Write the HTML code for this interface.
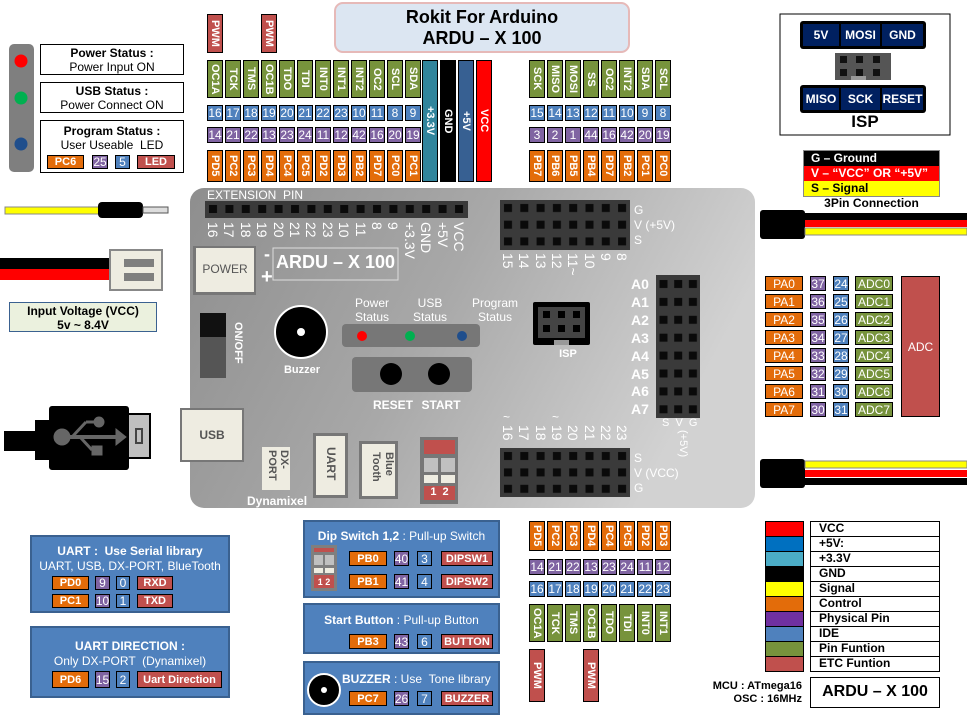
<!DOCTYPE html>
<html><head><meta charset="utf-8"><style>
body{margin:0;width:967px;height:713px;background:#fff;position:relative;overflow:hidden;font-family:"Liberation Sans",sans-serif}
.a{position:absolute;box-sizing:border-box}
.b{position:absolute;box-sizing:border-box;border:1px solid #000;color:#fff;font:bold 11px "Liberation Sans",sans-serif;display:flex;align-items:center;justify-content:center;white-space:nowrap}
.n{font-size:12px;font-weight:normal}
.o{background:#e36c0a}.p{background:#8064a2}.u{background:#4f81bd}.g{background:#77933c}.r{background:#c0504d}
.v{writing-mode:vertical-rl}
.t{position:absolute;white-space:nowrap}
.wl{color:#fff}
.bx{position:absolute;box-sizing:border-box;background:#4f81bd;border:2px solid #3a6190;color:#fff;text-align:center}
.pl{position:absolute;writing-mode:vertical-rl;color:#fff;font:14px/16px "Liberation Sans",sans-serif;width:16px;text-align:left;white-space:nowrap}
</style></head><body>
<svg class="a" style="left:0;top:0" width="967" height="713">
<defs>
<linearGradient id="bg" x1="0" y1="0" x2="1" y2="0.3"><stop offset="0" stop-color="#8e8e8e"/><stop offset="0.5" stop-color="#a8a8a8"/><stop offset="1" stop-color="#d2d2d2"/></linearGradient>
<pattern id="p1" x="205" y="201" width="16.4" height="17" patternUnits="userSpaceOnUse"><rect width="16.4" height="17" fill="#3a3a3a"/><rect x="4" y="4" width="8" height="8" fill="#0a0a0a"/></pattern>
<pattern id="p2" x="500" y="200" width="16.3" height="16.7" patternUnits="userSpaceOnUse"><rect width="16.3" height="16.7" fill="#3a3a3a"/><rect x="4" y="4" width="8" height="8" fill="#0a0a0a"/></pattern>
<pattern id="p3" x="656" y="275" width="14.7" height="17.9" patternUnits="userSpaceOnUse"><rect width="14.7" height="17.9" fill="#3a3a3a"/><rect x="3.5" y="5" width="8" height="8" fill="#0a0a0a"/></pattern>
<pattern id="p4" x="500" y="448" width="16.3" height="16.4" patternUnits="userSpaceOnUse"><rect width="16.3" height="16.4" fill="#3a3a3a"/><rect x="4" y="4" width="8" height="8" fill="#0a0a0a"/></pattern>
</defs>
<rect x="190" y="188" width="565" height="320" rx="14" fill="url(#bg)"/>
<rect x="205" y="201" width="263" height="17" fill="url(#p1)"/>
<rect x="500" y="200" width="130" height="50" fill="url(#p2)"/>
<rect x="656" y="275" width="44" height="143" fill="url(#p3)"/>
<rect x="500" y="448" width="130" height="49" fill="url(#p4)"/>
<rect x="200" y="313" width="26" height="24" fill="#111"/><rect x="200" y="337" width="26" height="41" fill="#555"/>
<circle cx="301" cy="332" r="26" fill="#000" stroke="#fff" stroke-width="2"/><circle cx="301" cy="332" r="4" fill="#fff"/>
<rect x="342" y="324" width="138" height="23" rx="4" fill="#777"/>
<circle cx="362" cy="336" r="5" fill="#f00"/><circle cx="410" cy="336" r="5" fill="#00b050"/><circle cx="462" cy="336" r="5" fill="#1f4e8c"/>
<rect x="352" y="357" width="120" height="35" rx="4" fill="#777"/>
<circle cx="391" cy="374" r="11" fill="#000"/><circle cx="439" cy="374" r="11" fill="#000"/>
<rect x="533" y="302" width="57" height="43" rx="2" fill="#000"/><rect x="538" y="307" width="47" height="31" fill="#444"/>
<g fill="#000"><rect x="543" y="311" width="7" height="7"/><rect x="558" y="311" width="7" height="7"/><rect x="573" y="311" width="7" height="7"/><rect x="543" y="325" width="7" height="7"/><rect x="558" y="325" width="7" height="7"/><rect x="573" y="325" width="7" height="7"/></g>
<rect x="554" y="340" width="15" height="5" fill="#999"/>
<rect x="193" y="246" width="63" height="49" fill="#777"/><rect x="196" y="248" width="58" height="44" fill="#eeece1"/>
<rect x="273" y="248" width="125" height="32" fill="none" stroke="#ddd" stroke-width="1"/>
<rect x="180" y="408" width="64" height="54" fill="#777"/><rect x="182" y="410" width="60" height="50" fill="#eeece1"/>
<rect x="262" y="447" width="28" height="43" fill="#eeece1"/>
<rect x="313" y="433" width="35" height="65" fill="#777"/><rect x="316" y="436" width="29" height="59" fill="#eeece1"/>
<rect x="359" y="441" width="39" height="58" fill="#777"/><rect x="362" y="444" width="33" height="52" fill="#eeece1"/>
<rect x="420" y="437" width="38" height="67" fill="#777"/>
<rect x="424" y="440" width="31" height="14" fill="#c0504d"/>
<rect x="424" y="458" width="14" height="14" fill="#c0c0c0"/><rect x="441" y="458" width="14" height="14" fill="#c0c0c0"/>
<rect x="424" y="475" width="14" height="8" fill="#eeece1"/><rect x="441" y="475" width="14" height="8" fill="#eeece1"/>
<rect x="424" y="486" width="31" height="14" fill="#c0504d"/>
<rect x="9" y="44" width="25" height="128" rx="5" fill="#7f7f7f"/>
<circle cx="21" cy="61" r="6.5" fill="#f00"/><circle cx="21" cy="98" r="6.5" fill="#00b050"/><circle cx="21" cy="144" r="6.5" fill="#1f4e8c"/>
<rect x="5" y="207" width="95" height="7" fill="#ff0" stroke="#888" stroke-width="1"/>
<rect x="98" y="202" width="45" height="16" rx="4" fill="#000"/>
<rect x="143" y="207" width="25" height="6" fill="#ddd" stroke="#555" stroke-width="1"/>
<rect x="0" y="258" width="112" height="11" fill="#000"/><rect x="0" y="269" width="112" height="11" fill="#f00"/>
<rect x="110" y="250" width="52" height="40" fill="#eeece1" stroke="#888" stroke-width="2"/>
<rect x="124" y="259" width="30" height="8" fill="#7f7f7f"/><rect x="124" y="273" width="30" height="8" fill="#7f7f7f"/>
<rect x="4" y="431" width="33" height="20" fill="#000"/><rect x="35" y="420" width="16" height="40" fill="#000"/>
<rect x="49" y="406" width="80" height="64" rx="3" fill="#000"/>
<rect x="128" y="414" width="22" height="44" fill="#c0c0c0" stroke="#000" stroke-width="2"/>
<rect x="136" y="429" width="6" height="14" fill="none" stroke="#444" stroke-width="2"/>
<g fill="#666" stroke="#666"><circle cx="62" cy="437" r="8"/><line x1="62" y1="437" x2="118" y2="437" stroke-width="4"/><polygon points="116,429 126,437 116,445" /><line x1="72" y1="437" x2="86" y2="422" stroke-width="3"/><line x1="86" y1="422" x2="96" y2="422" stroke-width="3"/><circle cx="99" cy="422" r="5"/><line x1="80" y1="437" x2="92" y2="450" stroke-width="3"/><rect x="92" y="446" width="10" height="9"/></g>
<rect x="760" y="210" width="45" height="29" rx="3" fill="#000"/>
<rect x="805" y="213" width="162" height="7" fill="#000"/><rect x="805" y="220" width="162" height="7" fill="#f00"/><rect x="805" y="228" width="162" height="7" fill="#ff0" stroke="#888" stroke-width="1"/>
<rect x="760" y="459" width="45" height="29" rx="3" fill="#000"/>
<rect x="805" y="461" width="162" height="7" fill="#ff0" stroke="#888" stroke-width="1"/><rect x="805" y="470" width="162" height="7" fill="#f00"/><rect x="805" y="478" width="162" height="7" fill="#000"/>
<rect x="335" y="3" width="294" height="49" rx="8" fill="#dce6f2" stroke="#e6b9b8" stroke-width="2"/>
<rect x="780" y="14" width="170" height="121" fill="#fff" stroke="#000"/>
<rect x="800" y="21" width="126" height="28" rx="3" fill="#000"/><rect x="800" y="85" width="126" height="28" rx="3" fill="#000"/>
<g fill="#002060"><rect x="803" y="24" width="36" height="22"/><rect x="841" y="24" width="39" height="22"/><rect x="882" y="24" width="41" height="22"/><rect x="803" y="88" width="36" height="22"/><rect x="841" y="88" width="39" height="22"/><rect x="882" y="88" width="41" height="22"/></g>
<rect x="835" y="53" width="56" height="27" fill="#555"/>
<g fill="#111"><rect x="840" y="56" width="7" height="7"/><rect x="856" y="56" width="7" height="7"/><rect x="873" y="56" width="7" height="7"/><rect x="840" y="69" width="7" height="7"/><rect x="856" y="69" width="7" height="7"/><rect x="873" y="69" width="7" height="7"/></g>
<rect x="851" y="76" width="15" height="4" fill="#999"/>
<g stroke="#000" stroke-width="1">
<rect x="765.5" y="521.5" width="38" height="15" fill="#f00"/><rect x="765.5" y="536.5" width="38" height="15" fill="#0070c0"/><rect x="765.5" y="551.5" width="38" height="15" fill="#4bacc6"/><rect x="765.5" y="566.5" width="38" height="15" fill="#000"/><rect x="765.5" y="581.5" width="38" height="15" fill="#ff0"/><rect x="765.5" y="596.5" width="38" height="15" fill="#e36c0a"/><rect x="765.5" y="611.5" width="38" height="15" fill="#7030a0"/><rect x="765.5" y="626.5" width="38" height="15" fill="#4f81bd"/><rect x="765.5" y="641.5" width="38" height="15" fill="#77933c"/><rect x="765.5" y="656.5" width="38" height="15" fill="#c0504d"/>
<g fill="#fff"><rect x="810.5" y="521.5" width="129" height="15"/><rect x="810.5" y="536.5" width="129" height="15"/><rect x="810.5" y="551.5" width="129" height="15"/><rect x="810.5" y="566.5" width="129" height="15"/><rect x="810.5" y="581.5" width="129" height="15"/><rect x="810.5" y="596.5" width="129" height="15"/><rect x="810.5" y="611.5" width="129" height="15"/><rect x="810.5" y="626.5" width="129" height="15"/><rect x="810.5" y="641.5" width="129" height="15"/><rect x="810.5" y="656.5" width="129" height="15"/><rect x="810.5" y="677.5" width="129" height="30"/></g>
</g>
</svg>

<div class="t" style="left:335px;top:7px;width:294px;text-align:center;font:bold 18px/21px 'Liberation Sans',sans-serif">Rokit For Arduino<br>ARDU – X 100</div>

<div class="a" style="left:40px;top:44px;width:144px;height:31px;border:1px solid #000;text-align:center;font:12px/14px 'Liberation Sans',sans-serif;padding-top:1px"><b>Power Status :</b><br>Power Input ON</div>
<div class="a" style="left:40px;top:82px;width:144px;height:31px;border:1px solid #000;text-align:center;font:12px/14px 'Liberation Sans',sans-serif;padding-top:1px"><b>USB Status :</b><br>Power Connect ON</div>
<div class="a" style="left:40px;top:120px;width:144px;height:53px;border:1px solid #000;text-align:center;font:12px/14px 'Liberation Sans',sans-serif;padding-top:3px"><b>Program Status :</b><br>User Useable &nbsp;LED</div>
<div class="b o" style="left:47px;top:155px;width:37px;height:14px">PC6</div>
<div class="b p n" style="left:92px;top:155px;width:16px;height:14px">25</div>
<div class="b u n" style="left:115px;top:155px;width:15px;height:14px">5</div>
<div class="b r" style="left:137px;top:155px;width:38px;height:14px">LED</div>

<div class="a" style="left:9px;top:302px;width:148px;height:30px;background:#ebf1de;border:1px solid #3a6190;text-align:center;font:bold 12px/14px 'Liberation Sans',sans-serif;padding-top:1px">Input Voltage (VCC)<br>5v ~ 8.4V</div>

<div class="b r v" style="left:207px;top:14px;width:16px;height:39px">PWM</div>
<div class="b r v" style="left:261px;top:14px;width:16px;height:39px">PWM</div>
<div class="b g v" style="left:207px;top:60px;width:16px;height:38px">OC1A</div>
<div class="b g v" style="left:225px;top:60px;width:16px;height:38px">TCK</div>
<div class="b g v" style="left:243px;top:60px;width:16px;height:38px">TMS</div>
<div class="b g v" style="left:261px;top:60px;width:16px;height:38px">OC1B</div>
<div class="b g v" style="left:279px;top:60px;width:16px;height:38px">TDO</div>
<div class="b g v" style="left:297px;top:60px;width:16px;height:38px">TDI</div>
<div class="b g v" style="left:315px;top:60px;width:16px;height:38px">INT0</div>
<div class="b g v" style="left:333px;top:60px;width:16px;height:38px">INT1</div>
<div class="b g v" style="left:351px;top:60px;width:16px;height:38px">INT2</div>
<div class="b g v" style="left:369px;top:60px;width:16px;height:38px">OC2</div>
<div class="b g v" style="left:387px;top:60px;width:16px;height:38px">SCL</div>
<div class="b g v" style="left:405px;top:60px;width:16px;height:38px">SDA</div>
<div class="b u n" style="left:207px;top:105px;width:16px;height:16px">16</div>
<div class="b u n" style="left:225px;top:105px;width:16px;height:16px">17</div>
<div class="b u n" style="left:243px;top:105px;width:16px;height:16px">18</div>
<div class="b u n" style="left:261px;top:105px;width:16px;height:16px">19</div>
<div class="b u n" style="left:279px;top:105px;width:16px;height:16px">20</div>
<div class="b u n" style="left:297px;top:105px;width:16px;height:16px">21</div>
<div class="b u n" style="left:315px;top:105px;width:16px;height:16px">22</div>
<div class="b u n" style="left:333px;top:105px;width:16px;height:16px">23</div>
<div class="b u n" style="left:351px;top:105px;width:16px;height:16px">10</div>
<div class="b u n" style="left:369px;top:105px;width:16px;height:16px">11</div>
<div class="b u n" style="left:387px;top:105px;width:16px;height:16px">8</div>
<div class="b u n" style="left:405px;top:105px;width:16px;height:16px">9</div>
<div class="b p n" style="left:207px;top:127px;width:16px;height:16px">14</div>
<div class="b p n" style="left:225px;top:127px;width:16px;height:16px">21</div>
<div class="b p n" style="left:243px;top:127px;width:16px;height:16px">22</div>
<div class="b p n" style="left:261px;top:127px;width:16px;height:16px">13</div>
<div class="b p n" style="left:279px;top:127px;width:16px;height:16px">23</div>
<div class="b p n" style="left:297px;top:127px;width:16px;height:16px">24</div>
<div class="b p n" style="left:315px;top:127px;width:16px;height:16px">11</div>
<div class="b p n" style="left:333px;top:127px;width:16px;height:16px">12</div>
<div class="b p n" style="left:351px;top:127px;width:16px;height:16px">42</div>
<div class="b p n" style="left:369px;top:127px;width:16px;height:16px">16</div>
<div class="b p n" style="left:387px;top:127px;width:16px;height:16px">20</div>
<div class="b p n" style="left:405px;top:127px;width:16px;height:16px">19</div>
<div class="b o v" style="left:207px;top:150px;width:16px;height:32px">PD5</div>
<div class="b o v" style="left:225px;top:150px;width:16px;height:32px">PC2</div>
<div class="b o v" style="left:243px;top:150px;width:16px;height:32px">PC3</div>
<div class="b o v" style="left:261px;top:150px;width:16px;height:32px">PD4</div>
<div class="b o v" style="left:279px;top:150px;width:16px;height:32px">PC4</div>
<div class="b o v" style="left:297px;top:150px;width:16px;height:32px">PC5</div>
<div class="b o v" style="left:315px;top:150px;width:16px;height:32px">PD2</div>
<div class="b o v" style="left:333px;top:150px;width:16px;height:32px">PD3</div>
<div class="b o v" style="left:351px;top:150px;width:16px;height:32px">PB2</div>
<div class="b o v" style="left:369px;top:150px;width:16px;height:32px">PD7</div>
<div class="b o v" style="left:387px;top:150px;width:16px;height:32px">PC0</div>
<div class="b o v" style="left:405px;top:150px;width:16px;height:32px">PC1</div>
<div class="b v" style="left:422px;top:60px;width:16px;height:122px;background:#31859c">+3.3V</div>
<div class="b v" style="left:440px;top:60px;width:16px;height:122px;background:#000">GND</div>
<div class="b v" style="left:458px;top:60px;width:16px;height:122px;background:#376092">+5V</div>
<div class="b v" style="left:476px;top:60px;width:16px;height:122px;background:#f00">VCC</div>

<div class="b g v" style="left:529px;top:60px;width:16px;height:38px">SCK</div>
<div class="b g v" style="left:547px;top:60px;width:16px;height:38px">MISO</div>
<div class="b g v" style="left:565px;top:60px;width:16px;height:38px">MOSI</div>
<div class="b g v" style="left:583px;top:60px;width:16px;height:38px">SS</div>
<div class="b g v" style="left:601px;top:60px;width:16px;height:38px">OC2</div>
<div class="b g v" style="left:619px;top:60px;width:16px;height:38px">INT2</div>
<div class="b g v" style="left:637px;top:60px;width:16px;height:38px">SDA</div>
<div class="b g v" style="left:655px;top:60px;width:16px;height:38px">SCL</div>
<div class="b u n" style="left:529px;top:105px;width:16px;height:16px">15</div>
<div class="b u n" style="left:547px;top:105px;width:16px;height:16px">14</div>
<div class="b u n" style="left:565px;top:105px;width:16px;height:16px">13</div>
<div class="b u n" style="left:583px;top:105px;width:16px;height:16px">12</div>
<div class="b u n" style="left:601px;top:105px;width:16px;height:16px">11</div>
<div class="b u n" style="left:619px;top:105px;width:16px;height:16px">10</div>
<div class="b u n" style="left:637px;top:105px;width:16px;height:16px">9</div>
<div class="b u n" style="left:655px;top:105px;width:16px;height:16px">8</div>
<div class="b p n" style="left:529px;top:127px;width:16px;height:16px">3</div>
<div class="b p n" style="left:547px;top:127px;width:16px;height:16px">2</div>
<div class="b p n" style="left:565px;top:127px;width:16px;height:16px">1</div>
<div class="b p n" style="left:583px;top:127px;width:16px;height:16px">44</div>
<div class="b p n" style="left:601px;top:127px;width:16px;height:16px">16</div>
<div class="b p n" style="left:619px;top:127px;width:16px;height:16px">42</div>
<div class="b p n" style="left:637px;top:127px;width:16px;height:16px">20</div>
<div class="b p n" style="left:655px;top:127px;width:16px;height:16px">19</div>
<div class="b o v" style="left:529px;top:150px;width:16px;height:32px">PB7</div>
<div class="b o v" style="left:547px;top:150px;width:16px;height:32px">PB6</div>
<div class="b o v" style="left:565px;top:150px;width:16px;height:32px">PB5</div>
<div class="b o v" style="left:583px;top:150px;width:16px;height:32px">PB4</div>
<div class="b o v" style="left:601px;top:150px;width:16px;height:32px">PD7</div>
<div class="b o v" style="left:619px;top:150px;width:16px;height:32px">PB2</div>
<div class="b o v" style="left:637px;top:150px;width:16px;height:32px">PC1</div>
<div class="b o v" style="left:655px;top:150px;width:16px;height:32px">PC0</div>

<div class="t wl" style="left:803px;top:28px;width:36px;text-align:center;font:bold 12px 'Liberation Sans',sans-serif">5V</div>
<div class="t wl" style="left:841px;top:28px;width:39px;text-align:center;font:bold 12px 'Liberation Sans',sans-serif">MOSI</div>
<div class="t wl" style="left:882px;top:28px;width:41px;text-align:center;font:bold 12px 'Liberation Sans',sans-serif">GND</div>
<div class="t wl" style="left:801px;top:92px;width:40px;text-align:center;font:bold 12px 'Liberation Sans',sans-serif">MISO</div>
<div class="t wl" style="left:841px;top:92px;width:39px;text-align:center;font:bold 12px 'Liberation Sans',sans-serif">SCK</div>
<div class="t wl" style="left:880px;top:92px;width:45px;text-align:center;font:bold 12px 'Liberation Sans',sans-serif">RESET</div>
<div class="t" style="left:840px;top:112px;width:50px;text-align:center;font:bold 17px 'Liberation Sans',sans-serif">ISP</div>

<div class="a" style="left:803px;top:150px;width:137px;height:47px;border:1px solid #888;font:bold 12px/15px 'Liberation Sans',sans-serif">
<div style="background:#000;color:#fff;padding-left:7px;height:15px">G – Ground</div>
<div style="background:#f00;color:#fff;padding-left:7px;height:15px">V – “VCC” OR “+5V”</div>
<div style="background:#ff0;color:#000;padding-left:7px;height:15px">S – Signal</div></div>
<div class="t" style="left:803px;top:196px;width:137px;text-align:center;font:bold 12px 'Liberation Sans',sans-serif">3Pin Connection</div>

<div class="b o" style="left:765px;top:276px;width:38px;height:15px;font-size:12px;font-weight:normal">PA0</div>
<div class="b o" style="left:765px;top:294px;width:38px;height:15px;font-size:12px;font-weight:normal">PA1</div>
<div class="b o" style="left:765px;top:312px;width:38px;height:15px;font-size:12px;font-weight:normal">PA2</div>
<div class="b o" style="left:765px;top:330px;width:38px;height:15px;font-size:12px;font-weight:normal">PA3</div>
<div class="b o" style="left:765px;top:348px;width:38px;height:15px;font-size:12px;font-weight:normal">PA4</div>
<div class="b o" style="left:765px;top:366px;width:38px;height:15px;font-size:12px;font-weight:normal">PA5</div>
<div class="b o" style="left:765px;top:384px;width:38px;height:15px;font-size:12px;font-weight:normal">PA6</div>
<div class="b o" style="left:765px;top:402px;width:38px;height:15px;font-size:12px;font-weight:normal">PA7</div>
<div class="b p n" style="left:810px;top:276px;width:16px;height:15px">37</div>
<div class="b p n" style="left:810px;top:294px;width:16px;height:15px">36</div>
<div class="b p n" style="left:810px;top:312px;width:16px;height:15px">35</div>
<div class="b p n" style="left:810px;top:330px;width:16px;height:15px">34</div>
<div class="b p n" style="left:810px;top:348px;width:16px;height:15px">33</div>
<div class="b p n" style="left:810px;top:366px;width:16px;height:15px">32</div>
<div class="b p n" style="left:810px;top:384px;width:16px;height:15px">31</div>
<div class="b p n" style="left:810px;top:402px;width:16px;height:15px">30</div>
<div class="b u n" style="left:833px;top:276px;width:16px;height:15px">24</div>
<div class="b u n" style="left:833px;top:294px;width:16px;height:15px">25</div>
<div class="b u n" style="left:833px;top:312px;width:16px;height:15px">26</div>
<div class="b u n" style="left:833px;top:330px;width:16px;height:15px">27</div>
<div class="b u n" style="left:833px;top:348px;width:16px;height:15px">28</div>
<div class="b u n" style="left:833px;top:366px;width:16px;height:15px">29</div>
<div class="b u n" style="left:833px;top:384px;width:16px;height:15px">30</div>
<div class="b u n" style="left:833px;top:402px;width:16px;height:15px">31</div>
<div class="b g n" style="left:855px;top:276px;width:38px;height:15px">ADC0</div>
<div class="b g n" style="left:855px;top:294px;width:38px;height:15px">ADC1</div>
<div class="b g n" style="left:855px;top:312px;width:38px;height:15px">ADC2</div>
<div class="b g n" style="left:855px;top:330px;width:38px;height:15px">ADC3</div>
<div class="b g n" style="left:855px;top:348px;width:38px;height:15px">ADC4</div>
<div class="b g n" style="left:855px;top:366px;width:38px;height:15px">ADC5</div>
<div class="b g n" style="left:855px;top:384px;width:38px;height:15px">ADC6</div>
<div class="b g n" style="left:855px;top:402px;width:38px;height:15px">ADC7</div>
<div class="b r n" style="left:901px;top:276px;width:39px;height:141px">ADC</div>

<!-- board text -->
<div class="t wl" style="left:207px;top:188px;font:12px 'Liberation Sans',sans-serif">EXTENSION &nbsp;PIN</div>
<div class="pl" style="left:205px;top:222px">16</div>
<div class="pl" style="left:221px;top:222px">17</div>
<div class="pl" style="left:238px;top:222px">18</div>
<div class="pl" style="left:254px;top:222px">19</div>
<div class="pl" style="left:271px;top:222px">20</div>
<div class="pl" style="left:287px;top:222px">21</div>
<div class="pl" style="left:303px;top:222px">22</div>
<div class="pl" style="left:320px;top:222px">23</div>
<div class="pl" style="left:336px;top:222px">10</div>
<div class="pl" style="left:353px;top:222px">11</div>
<div class="pl" style="left:369px;top:222px">8</div>
<div class="pl" style="left:385px;top:222px">9</div>
<div class="pl" style="left:402px;top:222px">+3.3V</div>
<div class="pl" style="left:418px;top:222px">GND</div>
<div class="pl" style="left:435px;top:222px">+5V</div>
<div class="pl" style="left:451px;top:222px">VCC</div>
<div class="pl" style="left:500px;top:253px">15</div>
<div class="pl" style="left:516px;top:253px">14</div>
<div class="pl" style="left:533px;top:253px">13</div>
<div class="pl" style="left:549px;top:253px">12</div>
<div class="pl" style="left:565px;top:253px">11~</div>
<div class="pl" style="left:582px;top:253px">10</div>
<div class="pl" style="left:598px;top:253px">9</div>
<div class="pl" style="left:614px;top:253px">8</div>
<div class="t wl" style="left:634px;top:203px;font:12px/15px 'Liberation Sans',sans-serif">G<br>V (+5V)<br>S</div>
<div class="t" style="left:196px;top:262px;width:58px;text-align:center;color:#555;font:12px 'Liberation Sans',sans-serif">POWER</div>
<div class="t wl" style="left:264px;top:244px;font:bold 18px 'Liberation Sans',sans-serif">-</div>
<div class="t wl" style="left:261px;top:266px;font:bold 20px 'Liberation Sans',sans-serif">+</div>
<div class="t wl" style="left:273px;top:252px;width:125px;text-align:center;font:bold 18px 'Liberation Sans',sans-serif">ARDU – X 100</div>
<div class="t wl v" style="left:232px;top:322px;font:bold 11px 'Liberation Sans',sans-serif">ON/OFF</div>
<div class="t wl" style="left:280px;top:364px;width:44px;text-align:center;font:bold 11px 'Liberation Sans',sans-serif">Buzzer</div>
<div class="t wl" style="left:342px;top:296px;width:60px;text-align:center;font:12px/14px 'Liberation Sans',sans-serif">Power<br>Status</div>
<div class="t wl" style="left:400px;top:296px;width:60px;text-align:center;font:12px/14px 'Liberation Sans',sans-serif">USB<br>Status</div>
<div class="t wl" style="left:462px;top:296px;width:66px;text-align:center;font:12px/14px 'Liberation Sans',sans-serif">Program<br>Status</div>
<div class="t wl" style="left:373px;top:398px;width:36px;text-align:center;font:bold 12px 'Liberation Sans',sans-serif">RESET</div>
<div class="t wl" style="left:421px;top:398px;width:40px;text-align:center;font:bold 12px 'Liberation Sans',sans-serif">START</div>
<div class="t wl" style="left:548px;top:348px;width:40px;text-align:center;font:bold 11px 'Liberation Sans',sans-serif">ISP</div>
<div class="t wl" style="left:631px;top:276px;font:bold 14px/17.9px 'Liberation Sans',sans-serif">A0<br>A1<br>A2<br>A3<br>A4<br>A5<br>A6<br>A7</div>
<div class="t wl" style="left:662px;top:417px;font:11px 'Liberation Sans',sans-serif">S&nbsp; V&nbsp; G</div>
<div class="t wl v" style="left:677px;top:430px;font:11px 'Liberation Sans',sans-serif">(+5V)</div>
<div class="t wl" style="left:503px;top:410px;font:12px 'Liberation Sans',sans-serif">~</div>
<div class="t wl" style="left:552px;top:410px;font:12px 'Liberation Sans',sans-serif">~</div>
<div class="pl" style="left:500px;top:425px">16</div>
<div class="pl" style="left:516px;top:425px">17</div>
<div class="pl" style="left:533px;top:425px">18</div>
<div class="pl" style="left:549px;top:425px">19</div>
<div class="pl" style="left:565px;top:425px">20</div>
<div class="pl" style="left:582px;top:425px">21</div>
<div class="pl" style="left:598px;top:425px">22</div>
<div class="pl" style="left:614px;top:425px">23</div>
<div class="t wl" style="left:634px;top:451px;font:12px/15px 'Liberation Sans',sans-serif">S<br>V (VCC)<br>G</div>
<div class="t" style="left:182px;top:428px;width:60px;text-align:center;color:#555;font:bold 12px 'Liberation Sans',sans-serif">USB</div>
<div class="t v" style="left:263px;top:450px;width:27px;height:40px;color:#555;font:bold 11px/12px 'Liberation Sans',sans-serif">DX-<br>PORT</div>
<div class="t v" style="left:324px;top:447px;color:#555;font:bold 12px 'Liberation Sans',sans-serif">UART</div>
<div class="t v" style="left:365px;top:452px;width:30px;color:#555;font:bold 11px/13px 'Liberation Sans',sans-serif">Blue<br>Tooth</div>
<div class="t wl" style="left:424px;top:486px;width:31px;text-align:center;font:bold 11px 'Liberation Sans',sans-serif">1&nbsp; 2</div>
<div class="t wl" style="left:247px;top:494px;font:bold 12px 'Liberation Sans',sans-serif">Dynamixel</div>

<div class="bx" style="left:30px;top:535px;width:200px;height:78px;font:12px/15px 'Liberation Sans',sans-serif;padding-top:7px"><b>UART : &nbsp;Use Serial library</b><br>UART, USB, DX-PORT, BlueTooth</div>
<div class="b o" style="left:52px;top:576px;width:37px;height:14px">PD0</div><div class="b p n" style="left:95px;top:576px;width:15px;height:14px">9</div><div class="b u n" style="left:116px;top:576px;width:14px;height:14px">0</div><div class="b r" style="left:137px;top:576px;width:36px;height:14px">RXD</div>
<div class="b o" style="left:52px;top:594px;width:37px;height:14px">PC1</div><div class="b p n" style="left:95px;top:594px;width:15px;height:14px">10</div><div class="b u n" style="left:116px;top:594px;width:14px;height:14px">1</div><div class="b r" style="left:137px;top:594px;width:36px;height:14px">TXD</div>
<div class="bx" style="left:30px;top:626px;width:200px;height:72px;font:12px/15px 'Liberation Sans',sans-serif;padding-top:11px"><b>UART DIRECTION :</b><br>Only DX-PORT &nbsp;(Dynamixel)</div>
<div class="b o" style="left:52px;top:671px;width:37px;height:17px">PD6</div><div class="b p n" style="left:95px;top:671px;width:15px;height:17px">15</div><div class="b u n" style="left:116px;top:671px;width:14px;height:17px">2</div><div class="b r" style="left:137px;top:671px;width:85px;height:17px">Uart Direction</div>

<div class="bx" style="left:303px;top:520px;width:197px;height:78px;font:12px 'Liberation Sans',sans-serif;padding-top:7px"><b>Dip Switch 1,2</b> : Pull-up Switch</div>
<div class="a" style="left:311px;top:545px;width:26px;height:46px;background:#7f7f7f"></div>
<div class="a" style="left:314px;top:548px;width:20px;height:4px;background:#c0504d"></div>
<div class="a" style="left:314px;top:555px;width:9px;height:10px;background:#c0c0c0"></div><div class="a" style="left:325px;top:555px;width:9px;height:10px;background:#c0c0c0"></div>
<div class="a" style="left:314px;top:568px;width:9px;height:5px;background:#eeece1"></div><div class="a" style="left:325px;top:568px;width:9px;height:5px;background:#eeece1"></div>
<div class="b r" style="left:314px;top:575px;width:20px;height:13px;border:0;font-size:9px">1 2</div>
<div class="b o" style="left:349px;top:551px;width:38px;height:15px">PB0</div><div class="b p n" style="left:394px;top:551px;width:15px;height:15px">40</div><div class="b u n" style="left:417px;top:551px;width:15px;height:15px">3</div><div class="b r" style="left:441px;top:551px;width:52px;height:15px">DIPSW1</div>
<div class="b o" style="left:349px;top:574px;width:38px;height:15px">PB1</div><div class="b p n" style="left:394px;top:574px;width:15px;height:15px">41</div><div class="b u n" style="left:417px;top:574px;width:15px;height:15px">4</div><div class="b r" style="left:441px;top:574px;width:52px;height:15px">DIPSW2</div>
<div class="bx" style="left:303px;top:603px;width:197px;height:51px;font:12px 'Liberation Sans',sans-serif;padding-top:8px"><b>Start Button</b> : Pull-up Button</div>
<div class="b o" style="left:349px;top:634px;width:38px;height:15px">PB3</div><div class="b p n" style="left:394px;top:634px;width:15px;height:15px">43</div><div class="b u n" style="left:417px;top:634px;width:15px;height:15px">6</div><div class="b r" style="left:441px;top:634px;width:52px;height:15px">BUTTON</div>
<div class="bx" style="left:303px;top:661px;width:197px;height:54px;font:12px 'Liberation Sans',sans-serif;padding:9px 0 0 37px;text-align:left"><b>BUZZER</b> : Use &nbsp;Tone library</div>
<svg class="a" style="left:306px;top:672px" width="38" height="38"><circle cx="18" cy="18" r="16" fill="#000" stroke="#fff" stroke-width="2"/><circle cx="18" cy="18" r="3" fill="#fff"/></svg>
<div class="b o" style="left:349px;top:691px;width:38px;height:15px">PC7</div><div class="b p n" style="left:394px;top:691px;width:15px;height:15px">26</div><div class="b u n" style="left:417px;top:691px;width:15px;height:15px">7</div><div class="b r" style="left:441px;top:691px;width:52px;height:15px">BUZZER</div>

<div class="b o v" style="left:529px;top:521px;width:16px;height:30px">PD5</div>
<div class="b o v" style="left:547px;top:521px;width:16px;height:30px">PC2</div>
<div class="b o v" style="left:565px;top:521px;width:16px;height:30px">PC3</div>
<div class="b o v" style="left:583px;top:521px;width:16px;height:30px">PD4</div>
<div class="b o v" style="left:601px;top:521px;width:16px;height:30px">PC4</div>
<div class="b o v" style="left:619px;top:521px;width:16px;height:30px">PC5</div>
<div class="b o v" style="left:637px;top:521px;width:16px;height:30px">PD2</div>
<div class="b o v" style="left:655px;top:521px;width:16px;height:30px">PD3</div>
<div class="b p n" style="left:529px;top:559px;width:16px;height:16px">14</div>
<div class="b p n" style="left:547px;top:559px;width:16px;height:16px">21</div>
<div class="b p n" style="left:565px;top:559px;width:16px;height:16px">22</div>
<div class="b p n" style="left:583px;top:559px;width:16px;height:16px">13</div>
<div class="b p n" style="left:601px;top:559px;width:16px;height:16px">23</div>
<div class="b p n" style="left:619px;top:559px;width:16px;height:16px">24</div>
<div class="b p n" style="left:637px;top:559px;width:16px;height:16px">11</div>
<div class="b p n" style="left:655px;top:559px;width:16px;height:16px">12</div>
<div class="b u n" style="left:529px;top:581px;width:16px;height:16px">16</div>
<div class="b u n" style="left:547px;top:581px;width:16px;height:16px">17</div>
<div class="b u n" style="left:565px;top:581px;width:16px;height:16px">18</div>
<div class="b u n" style="left:583px;top:581px;width:16px;height:16px">19</div>
<div class="b u n" style="left:601px;top:581px;width:16px;height:16px">20</div>
<div class="b u n" style="left:619px;top:581px;width:16px;height:16px">21</div>
<div class="b u n" style="left:637px;top:581px;width:16px;height:16px">22</div>
<div class="b u n" style="left:655px;top:581px;width:16px;height:16px">23</div>
<div class="b g v" style="left:529px;top:604px;width:16px;height:38px">OC1A</div>
<div class="b g v" style="left:547px;top:604px;width:16px;height:38px">TCK</div>
<div class="b g v" style="left:565px;top:604px;width:16px;height:38px">TMS</div>
<div class="b g v" style="left:583px;top:604px;width:16px;height:38px">OC1B</div>
<div class="b g v" style="left:601px;top:604px;width:16px;height:38px">TDO</div>
<div class="b g v" style="left:619px;top:604px;width:16px;height:38px">TDI</div>
<div class="b g v" style="left:637px;top:604px;width:16px;height:38px">INT0</div>
<div class="b g v" style="left:655px;top:604px;width:16px;height:38px">INT1</div>
<div class="b r v" style="left:529px;top:649px;width:16px;height:53px">PWM</div>
<div class="b r v" style="left:583px;top:649px;width:16px;height:53px">PWM</div>

<div class="t" style="left:819px;top:521px;font:bold 12px/15px 'Liberation Sans',sans-serif">VCC<br>+5V:<br>+3.3V<br>GND<br>Signal<br>Control<br>Physical Pin<br>IDE<br>Pin Funtion<br>ETC Funtion</div>
<div class="t" style="left:810px;top:683px;width:130px;text-align:center;font:bold 16px 'Liberation Sans',sans-serif">ARDU – X 100</div>
<div class="t" style="left:690px;top:680px;width:112px;text-align:right;font:bold 11px/13px 'Liberation Sans',sans-serif">MCU : ATmega16<br>OSC : 16MHz</div>
</body></html>
